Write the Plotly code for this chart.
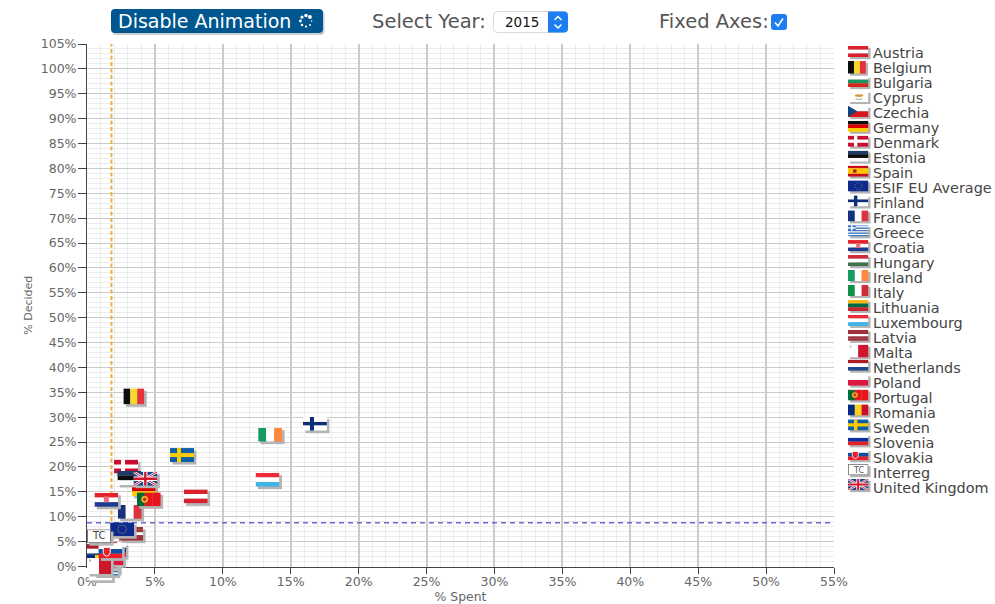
import base64
import math
import plotly.graph_objects as go

# ---------- data ----------
countries = ["Austria", "Belgium", "Bulgaria", "Cyprus", "Czechia", "Germany", "Denmark", "Estonia",
             "Spain", "ESIF EU Average", "Finland", "France", "Greece", "Croatia", "Hungary", "Ireland",
             "Italy", "Lithuania", "Luxembourg", "Latvia", "Malta", "Netherlands", "Poland", "Portugal",
             "Romania", "Sweden", "Slovenia", "Slovakia", "Interreg", "United Kingdom"]
pct_spent = [7.12, 2.67, 0.6, 0.1, 0.3, 3.29, 1.99, 2.23,
             0.15, 1.7, 15.9, 2.26, 0.5, 0.54, 0.7, 12.6,
             0.45, 0.4, 12.4, 2.36, 0.0, 0.0, 0.92, 3.66,
             0.0, 6.11, 1.1, 0.83, 0.0, 3.41]
pct_decided = [15.5, 35.8, 1.5, 0.0, 2.0, 17.0, 21.5, 19.2,
               1.5, 8.9, 30.1, 12.4, 1.0, 14.8, 3.0, 27.9,
               4.9, 2.5, 18.85, 8.0, 1.7, 4.5, 3.1, 14.9,
               2.3, 23.8, 4.7, 4.45, 7.5, 19.05]
draw_order = ["Austria", "Belgium", "Bulgaria", "Cyprus", "Czechia", "Germany", "Denmark", "Estonia",
              "Spain", "Finland", "France", "Greece", "Croatia", "Hungary", "Ireland", "Italy", "Lithuania",
              "Luxembourg", "Latvia", "Netherlands", "Poland", "Portugal", "Romania", "Malta", "Sweden",
              "Slovenia", "Slovakia", "ESIF EU Average", "Interreg", "United Kingdom"]
avg_spent = 1.8
avg_decided = 8.8
x_max = 55
y_max = 105
tick_step = 5
selected_year = "2015"

# ---------- page geometry ----------
W, H = 995, 604
L, R, T, B = 87.0, 834.0, 44.0, 566.5
FW, FH = 27.0, 19.0   # flag canvas incl. shadow, px
kx = x_max / (R - L)
ky = y_max / (B - T)
px = lambda v: v / W
py = lambda v: 1 - v / H


def uri(svg):
    return "data:image/svg+xml;base64," + base64.b64encode(svg.encode()).decode()


def stripes_h(cols, w=24, h=14):
    n = len(cols)
    return "".join(f'<rect x="0" y="{i*h/n}" width="{w}" height="{h/n+0.05}" fill="{c}"/>' for i, c in enumerate(cols))


def stripes_v(cols, w=24, h=14):
    n = len(cols)
    return "".join(f'<rect x="{i*w/n}" y="0" width="{w/n+0.05}" height="{h}" fill="{c}"/>' for i, c in enumerate(cols))


def nordic(bg, cr, w=24, h=14):
    return (f'<rect width="{w}" height="{h}" fill="{bg}"/><rect x="7" y="0" width="4" height="{h}" fill="{cr}"/>'
            f'<rect x="0" y="5" width="{w}" height="4" fill="{cr}"/>')


R_ = "#d8232f"
W_ = "#ffffff"
eu_stars = "".join(
    f'<circle cx="{12+4.2*math.sin(i*0.5236):.2f}" cy="{7+4.2*math.cos(i*0.5236):.2f}" r="0.5" fill="#c8b040"/>'
    for i in range(12))
art = {
    "Austria": stripes_h([R_, W_, R_]),
    "Belgium": (stripes_v(["#111111", "#f6d92c", "#e6303a"], 21, 16), 21, 16),
    "Bulgaria": stripes_h([W_, "#1f9360", "#d62612"]),
    "Cyprus": '<rect width="24" height="14" fill="#fff"/><ellipse cx="13" cy="6" rx="5" ry="1.8" fill="#e09a3c"/><path d="M9 10 q4 2 8 0" stroke="#88a070" fill="none"/>',
    "Czechia": stripes_h([W_, "#d7141a"]) + '<path d="M0 0 L11 7 L0 14 Z" fill="#11457e"/>',
    "Germany": stripes_h(["#111111", "#dd0000", "#ffce00"]),
    "Denmark": nordic("#c8102e", "#ffffff"),
    "Estonia": stripes_h(["#1a3a6a", "#111111", "#ffffff"]),
    "Spain": stripes_h(["#c60b1e", "#ffc400", "#ffc400", "#c60b1e"]) + '<rect x="6" y="5" width="4" height="4" fill="#ad1519"/>',
    "ESIF EU Average": f'<rect width="24" height="14" fill="#0b2a8f"/>{eu_stars}',
    "Finland": nordic("#ffffff", "#0d2f78").replace('y="5" width="24" height="4"', 'y="5.2" width="24" height="3.4"'),
    "France": stripes_v(["#18307e", "#ffffff", "#e0323c"]),
    "Greece": stripes_h(["#2f6fc0", W_, "#2f6fc0", W_, "#2f6fc0", W_, "#2f6fc0", W_, "#2f6fc0"]) + '<rect width="9" height="7" fill="#2f6fc0"/><rect x="3.6" width="1.8" height="7" fill="#fff"/><rect y="2.6" width="9" height="1.8" fill="#fff"/>',
    "Croatia": stripes_h(["#e5202c", W_, "#1a3a8f"]) + '<rect x="9.5" y="3.5" width="5" height="6" fill="#e8707a"/>',
    "Hungary": stripes_h(["#cd2a3e", W_, "#436f4d"]),
    "Ireland": stripes_v(["#169b62", W_, "#ff883e"]),
    "Italy": stripes_v(["#0a9248", W_, "#ce2b37"]),
    "Lithuania": stripes_h(["#fdb913", "#006a44", "#c1272d"]),
    "Luxembourg": stripes_h(["#ed2939", W_, "#40b4e8"]),
    "Latvia": stripes_h(["#9e3039", "#9e3039", W_, "#9e3039", "#9e3039"]),
    "Malta": (stripes_v([W_, "#cf142b"], 24, 16) + '<rect x="2" y="1.5" width="2" height="2" fill="#b0b0b0"/>', 24, 16),
    "Netherlands": stripes_h(["#ae1c28", W_, "#21468b"]),
    "Poland": stripes_h([W_, "#dc143c"]),
    "Portugal": stripes_v(["#046a38", "#e8141c", "#e8141c"]) + '<circle cx="8" cy="7" r="3.4" fill="#f0c020"/><circle cx="8" cy="7" r="1.8" fill="#d8232f"/>',
    "Romania": stripes_v(["#002b7f", "#fcd116", "#ce1126"]),
    "Sweden": nordic("#0b5ea8", "#fecc00"),
    "Slovenia": stripes_h([W_, "#0b2fa0", "#e0202c"]),
    "Slovakia": stripes_h([W_, "#0b4ea2", "#ee1c25"]) + '<path d="M5 3 h7 v5 q0 3 -3.5 4 q-3.5 -1 -3.5 -4 Z" fill="#ee1c25" stroke="#fff"/>',
    "Interreg": '<rect x="0.5" y="0.5" width="23" height="13" fill="#fff" stroke="#777"/>',
    "United Kingdom": ('<rect width="24" height="14" fill="#1d3f8a"/>'
                       '<path d="M0 0 L24 14 M24 0 L0 14" stroke="#fff" stroke-width="2.6"/>'
                       '<path d="M0 0 L24 14 M24 0 L0 14" stroke="#cf142b" stroke-width="1"/>'
                       '<path d="M12 0 V14 M0 7 H24" stroke="#fff" stroke-width="4.4"/>'
                       '<path d="M12 0 V14 M0 7 H24" stroke="#cf142b" stroke-width="2.4"/>'),
}


def flag_svg(name):
    a = art[name]
    body, w, h = a if isinstance(a, tuple) else (a, 24, 14)
    return (f'<svg xmlns="http://www.w3.org/2000/svg" width="{FW}" height="{FH}" viewBox="0 0 {FW} {FH}">'
            '<defs><filter id="b" x="-10%" y="-10%" width="120%" height="120%"><feGaussianBlur stdDeviation="0.35"/></filter></defs>'
            f'<g filter="url(#b)"><rect x="2.5" y="2.5" width="{w}" height="{h}" fill="#b4b4b4"/>'
            f'<svg width="{w}" height="{h}" viewBox="0 0 {w} {h}" overflow="hidden">{body}</svg></g></svg>')


flags = {n: uri(flag_svg(n)) for n in countries}

fig = go.Figure()

# reference lines on the visible axes
fig.add_trace(go.Scatter(x=[avg_spent, avg_spent], y=[0, y_max], mode="lines", hoverinfo="skip", showlegend=False,
                         line=dict(color="#f2ab45", width=2, dash="4px,2.5px"), xaxis="x", yaxis="y"))
fig.add_trace(go.Scatter(x=[0, x_max], y=[avg_decided, avg_decided], mode="lines", hoverinfo="skip", showlegend=False,
                         line=dict(color="#6a6ad8", width=1.4, dash="5px,4px"), xaxis="x", yaxis="y"))

# country points on an overlay axis pair that shares the same scale but spans the whole page
for n, xv, yv in zip(countries, pct_spent, pct_decided):
    fig.add_trace(go.Scatter(x=[xv], y=[yv], mode="markers", name=n, showlegend=False, cliponaxis=False,
                             marker=dict(size=22, opacity=0), xaxis="x2", yaxis="y2",
                             hovertemplate=n + "<br>% Spent: %{x}%<br>% Decided: %{y}%<extra></extra>"))

values = dict(zip(countries, zip(pct_spent, pct_decided)))
images = []
for n in draw_order:
    xv, yv = values[n]
    images.append(dict(source=flags[n], xref="x2", yref="y2", x=xv, y=yv, sizex=FW * kx, sizey=FH * ky,
                       xanchor="left", yanchor="top", sizing="stretch", layer="above"))

annotations = []
ANN = dict(showarrow=False, xref="paper", yref="paper", yanchor="middle", xanchor="left")
LEG_Y0, LEG_DY = 54.0, 14.93
TXT_Y0, TXT_DY = 53.0, 15.0
for i, n in enumerate(countries):
    yc = LEG_Y0 + i * LEG_DY
    images.append(dict(source=flags[n], xref="paper", yref="paper", x=px(848), y=py(yc - 8), sizex=23 / W, sizey=15.2 / H,
                       xanchor="left", yanchor="top", sizing="stretch", layer="above"))
    annotations.append(dict(text=n, x=px(871), y=py(TXT_Y0 + i * TXT_DY), font=dict(family="DejaVu Sans", size=14.4, color="#444444"), **ANN))
    if n == "Interreg":
        annotations.append(dict(text="TC", x=px(858), y=py(yc - 2), font=dict(family="DejaVu Sans", size=8, color="#555555"),
                                showarrow=False, xref="paper", yref="paper", xanchor="center", yanchor="middle"))

xv, yv = values["Interreg"]
annotations.append(dict(text="TC", x=xv, y=yv, xref="x2", yref="y2", xanchor="center", yanchor="middle", xshift=11.5, yshift=-6.5,
                        showarrow=False, font=dict(family="DejaVu Sans", size=10, color="#444444")))

# header controls
btn = ('<svg xmlns="http://www.w3.org/2000/svg" width="216" height="28" viewBox="0 0 216 28">'
       '<rect x="1.5" y="2" width="212" height="24" rx="4" fill="#cfcfcf"/><rect x="0" y="0" width="212" height="24" rx="4" fill="#00578f"/></svg>')
dots = "".join(f'<circle cx="{8+5.6*math.cos(i*0.785):.2f}" cy="{8+5.6*math.sin(i*0.785):.2f}" r="{0.8+i*0.16:.2f}" fill="#fff"/>' for i in range(8))
spin = f'<svg xmlns="http://www.w3.org/2000/svg" width="16" height="16" viewBox="0 0 16 16">{dots}</svg>'
sel = ('<svg xmlns="http://www.w3.org/2000/svg" width="76" height="23" viewBox="0 0 76 23">'
       '<rect x="0.5" y="0.5" width="74" height="21" rx="4" fill="#fff" stroke="#d9d9d9"/>'
       '<path d="M55 0.5 h16 a4 4 0 0 1 4 4 v13 a4 4 0 0 1 -4 4 h-16 Z" fill="#1c7ef0"/>'
       '<path d="M61.5 9 L65 5.5 L68.5 9 M61.5 13.5 L65 17 L68.5 13.5" stroke="#fff" stroke-width="1.5" fill="none"/></svg>')
chk = ('<svg xmlns="http://www.w3.org/2000/svg" width="16" height="16" viewBox="0 0 16 16">'
       '<rect width="16" height="16" rx="3" fill="#1c7ef0"/>'
       '<path d="M4 8.5 L7 12 L12 4.5" stroke="#fff" stroke-width="1.6" fill="none"/></svg>')
for src, x0, y0, w, h in [(btn, 111, 9, 216, 28), (spin, 298, 13, 16, 16), (sel, 493, 11, 76, 23), (chk, 771, 14, 16, 16)]:
    images.append(dict(source=uri(src), xref="paper", yref="paper", x=px(x0), y=py(y0), sizex=w / W, sizey=h / H,
                       xanchor="left", yanchor="top", sizing="stretch", layer="above"))
annotations += [
    dict(text="Disable Animation", x=px(115.5), y=py(21), font=dict(family="DejaVu Sans", size=19, color="#ffffff"), **ANN),
    dict(text="Select Year:", x=px(370), y=py(21), font=dict(family="DejaVu Sans", size=19.5, color="#555555"), **ANN),
    dict(text=selected_year, x=px(503), y=py(22), font=dict(family="DejaVu Sans", size=13.5, color="#111111"), **ANN),
    dict(text="Fixed Axes:", x=px(657), y=py(21), font=dict(family="DejaVu Sans", size=19.5, color="#555555"), **ANN),
]

TICK = dict(family="DejaVu Sans", size=12.5, color="#666666")
MINOR = dict(dtick=1, showgrid=True, gridcolor="#ececec", gridwidth=1.4, ticks="")
COMMON = dict(dtick=tick_step, tick0=0, ticksuffix="%", ticks="outside", tickcolor="#444444", tickwidth=1,
              showline=True, linecolor="#444444", linewidth=1, showgrid=True, gridcolor="#cbcbcb",
              zeroline=False, tickfont=TICK, minor=MINOR, automargin=False)

fig.update_layout(
    width=W, height=H, autosize=False,
    margin=dict(l=0, r=0, t=0, b=0, pad=0),
    paper_bgcolor="#ffffff", plot_bgcolor="rgba(0,0,0,0)", showlegend=False,
    xaxis=dict(domain=[L / W, R / W], range=[0, x_max], anchor="y", ticklen=6, gridwidth=1.6, ticklabelstandoff=-3,
               title=dict(text="% Spent", font=dict(family="DejaVu Sans", size=12.4, color="#666666"), standoff=11), **COMMON),
    yaxis=dict(domain=[1 - B / H, 1 - T / H], range=[0, y_max], anchor="x", ticklen=8, gridwidth=1.3, ticklabelstandoff=-1,
               title=dict(text="% Decided", font=dict(family="DejaVu Sans", size=11, color="#666666"), standoff=5), **COMMON),
    xaxis2=dict(domain=[0, 1], range=[-L * kx, (W - L) * kx], anchor="y2", visible=False, fixedrange=True),
    yaxis2=dict(domain=[0, 1], range=[-(H - B) * ky, B * ky], anchor="x2", visible=False, fixedrange=True),
    images=images, annotations=annotations,
)

fig.write_html("out.html", config=dict(displayModeBar=False),
               post_script="document.body.style.margin='0';document.documentElement.style.overflow='hidden';")
